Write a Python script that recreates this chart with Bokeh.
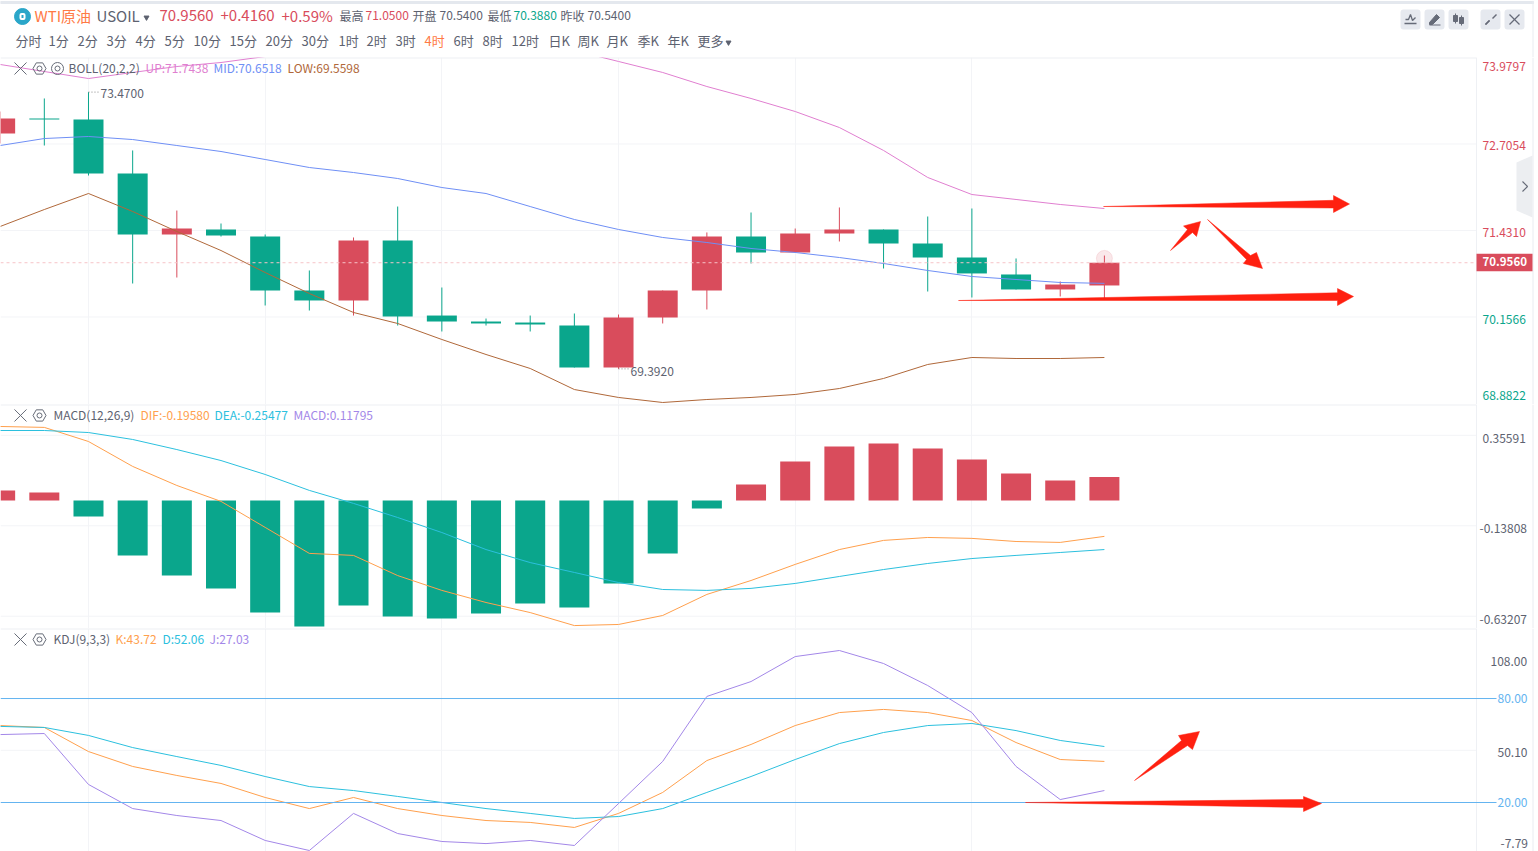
from bokeh.core.properties import value
from bokeh.embed import file_html
from bokeh.layouts import column
from bokeh.models import FixedTicker, Label, Range1d
from bokeh.plotting import figure
from bokeh.resources import INLINE

# ---- data ----
opens = [72.860, 73.081, 73.066, 72.271, 71.372, 71.446, 71.342, 70.547, 70.400, 71.283, 70.178, 70.090, 70.075,
         70.031, 69.412, 70.149, 70.547, 71.342, 71.107, 71.387, 71.446, 71.239, 71.033, 70.783, 70.562, 70.621]
closes = [73.081, 73.066, 72.271, 71.372, 71.460, 71.357, 70.547, 70.400, 71.283, 70.164, 70.090, 70.061, 70.046,
          69.412, 70.149, 70.547, 71.342, 71.107, 71.387, 71.446, 71.239, 71.033, 70.798, 70.562, 70.635, 70.956]
highs = [73.184, 73.376, 73.470, 72.610, 71.725, 71.534, 71.372, 70.842, 71.328, 71.784, 70.591, 70.134, 70.178,
         70.208, 70.193, 70.547, 71.402, 71.696, 71.460, 71.770, 71.446, 71.637, 71.755, 71.019, 70.680, 71.062]
lows = [72.713, 72.683, 72.241, 70.650, 70.738, 71.342, 70.326, 70.252, 70.178, 70.031, 69.943, 70.031, 69.943,
        69.412, 69.392, 70.061, 70.267, 70.945, 71.107, 71.269, 70.871, 70.532, 70.444, 70.562, 70.459, 70.429]
boll_up = [73.877, 73.773, 73.670, 73.759, 73.847, 73.906, 73.994, 74.112, 74.201, 74.289, 74.319, 74.289, 74.201,
           74.083, 73.921, 73.759, 73.552, 73.376, 73.184, 72.948, 72.610, 72.212, 71.961, 71.888, 71.814, 71.755]
boll_mid = [72.683, 72.786, 72.816, 72.771, 72.683, 72.595, 72.477, 72.359, 72.285, 72.197, 72.064, 71.976, 71.784,
            71.593, 71.446, 71.328, 71.254, 71.166, 71.107, 71.033, 70.945, 70.842, 70.753, 70.709, 70.665, 70.652]
boll_low = [71.490, 71.740, 71.976, 71.711, 71.416, 71.136, 70.812, 70.503, 70.223, 70.061, 69.825, 69.604, 69.398,
            69.088, 68.971, 68.897, 68.941, 68.971, 69.015, 69.103, 69.251, 69.457, 69.560, 69.545, 69.545, 69.560]
macd_hist = [0.055, 0.044, -0.087, -0.300, -0.409, -0.480, -0.611, -0.688, -0.573, -0.633, -0.644, -0.617, -0.562,
             -0.584, -0.453, -0.289, -0.044, 0.087, 0.213, 0.295, 0.311, 0.284, 0.224, 0.147, 0.109, 0.128]
dif = [0.404, 0.399, 0.322, 0.186, 0.082, -0.005, -0.147, -0.289, -0.300, -0.410, -0.491, -0.557, -0.612,
       -0.683, -0.677, -0.628, -0.513, -0.437, -0.349, -0.268, -0.218, -0.202, -0.207, -0.224, -0.229, -0.196]
dea = [0.382, 0.382, 0.371, 0.333, 0.278, 0.218, 0.142, 0.055, -0.016, -0.093, -0.175, -0.268, -0.339,
       -0.393, -0.448, -0.486, -0.491, -0.480, -0.453, -0.415, -0.377, -0.344, -0.317, -0.300, -0.284, -0.268]
kdj_k = [64.4, 63.3, 49.4, 40.8, 35.6, 31.0, 22.9, 16.5, 22.9, 16.5, 12.5, 9.6, 8.5,
         5.6, 13.7, 25.8, 44.2, 53.5, 64.4, 71.9, 73.7, 71.9, 67.3, 54.6, 44.8, 43.7]
kdj_d = [63.9, 63.3, 58.7, 51.7, 46.5, 41.4, 35.0, 29.2, 26.9, 23.5, 20.0, 16.5, 13.7,
         10.8, 11.9, 16.5, 25.8, 35.0, 44.8, 54.0, 60.4, 64.4, 65.6, 61.5, 55.8, 52.3]
kdj_j = [59.2, 59.8, 30.4, 16.5, 12.5, 9.6, -1.9, -7.7, 13.7, 2.1, -2.5, -3.7, -1.9,
         -4.8, 19.4, 43.7, 81.2, 89.8, 104.2, 107.7, 100.2, 87.5, 71.9, 40.8, 21.7, 26.9]
candles = list(range(len(opens)))
last_price = 70.956

price_ticks = [73.9797, 72.7054, 71.4310, 70.1566, 68.8822]
macd_ticks = [0.35591, -0.13808, -0.63207]
kdj_ticks = [108.00, 80.00, 50.10, 20.00, -7.79]
grid_candles = [2, 6, 10, 14, 18, 22]

periods = ["分时", "1分", "2分", "3分", "4分", "5分", "10分", "15分", "20分", "30分", "1时", "2时", "3时", "4时",
           "6时", "8时", "12时", "日K", "周K", "月K", "季K", "年K", "更多"]
period_x = [15, 48, 77, 106, 135, 164, 193, 229, 265, 301, 338, 366, 395, 424, 453, 482, 511, 548, 577, 606, 637, 667, 697]

# ---- colours / layout ----
FONT = "Noto Sans CJK SC"
RED = "#d94c5c"
GREEN = "#0aa68c"
GREY = "#5d6270"
ORANGE = "#ffa04d"
CYAN = "#2cc0de"
PURPLE = "#a387e8"
BLUE = "#64b4f0"
ARROW = "#ff2010"
GRID = "#f3f4f7"
EDGE = "#e9ecf1"
W = 1538
FRAME = 1476
STEP = 44.17
BODY = 30 / STEP


def xd(px):
    return (px + 0.35) / STEP


def pane(height, y0, y1, hlines):
    # frame takes the whole width so the price scale can be drawn inside it
    p = figure(width=W, height=height, output_backend="svg", toolbar_location=None,
               x_axis_location=None, y_axis_location=None,
               x_range=Range1d(xd(0), xd(W)), y_range=Range1d(y0, y1),
               min_border=0, outline_line_color=None, frame_align=False)
    p.xgrid.ticker = FixedTicker(ticks=grid_candles)
    p.xgrid.grid_line_color = GRID
    p.ygrid.visible = False
    n = len(hlines)
    p.segment([xd(0)] * n, hlines, [xd(FRAME)] * n, hlines, line_color=GRID)
    p.line([xd(0), xd(FRAME)], [y1, y1], line_color="#eef0f4", line_width=2)
    p.line([xd(FRAME), xd(FRAME)], [y0, y1], line_color="#eef0f4", line_width=1)
    p.line([xd(1532.5), xd(1532.5)], [y0, y1], line_color=EDGE, line_width=1)
    return p


def text(p, x, y, s, color=GREY, size=12, bold=False, y_off=0):
    p.add_layout(Label(x=x, y=y, text=s, x_units="screen", y_units="data", y_offset=y_off + 1,
                       text_color=color, text_font=FONT, text_font_size=f"{size}px",
                       text_font_style="bold" if bold else "normal", text_baseline="middle"))


def legend_row(p, y, items, eye=False):
    p.scatter([xd(20)], [y], marker="x", size=17, fill_alpha=0, line_color="#676c78", line_width=1)
    p.scatter([xd(39)], [y], marker="hex", size=13, fill_alpha=0, line_color="#676c78", line_width=1)
    p.scatter([xd(39)], [y], marker="circle", size=5, fill_alpha=0, line_color="#676c78", line_width=1)
    if eye:
        p.scatter([xd(57)], [y], marker="circle", size=12, fill_alpha=0, line_color="#676c78", line_width=1)
        p.scatter([xd(57)], [y], marker="circle", size=5, fill_alpha=0, line_color="#676c78", line_width=1)
    for x, s, c in items:
        text(p, x, y, s, c)


def arrow(p, yfn, pts):
    xs = [xd(a) for a, b in pts]
    ys = [yfn(b) for a, b in pts]
    p.patch(xs, ys, fill_color=ARROW, line_color=ARROW, line_width=0.5)


# ---- header ----
head = figure(width=W, height=57, output_backend="svg", toolbar_location=None,
              x_axis_location=None, y_axis_location=None, x_range=Range1d(0, W), y_range=Range1d(57, 0),
              min_border=0, outline_line_color=None, frame_align=False)
head.grid.visible = False
head.quad(left=[0], right=[1533], top=[1], bottom=[3], color="#e4e8ee")
head.line([1532.5, 1532.5], [0, 57], line_color=EDGE)
head.scatter([22], [16], marker="circle", size=16, color="#2aa6c9")
head.quad(left=[19], right=[25], top=[12.5], bottom=[19.5], fill_color="white", line_color=None, border_radius=2)
head.quad(left=[21], right=[23], top=[14.5], bottom=[17.5], fill_color="#2aa6c9", line_color=None)


def htext(x, y, s, color=GREY, size=12):
    head.text([x], [y - 1], text=[s], text_color=color, text_font=value(FONT), text_font_size=f"{size}px",
              text_baseline="middle")


htext(34, 16, "WTI原油", "#ff7a45", 15)
htext(96, 16, "USOIL", GREY, 15)
head.scatter([146], [17], marker="inverted_triangle", size=5, color=GREY)
htext(159, 16, "70.9560", RED, 15)
htext(220, 16, "+0.4160", RED, 15)
htext(281, 16, "+0.59%", RED, 15)
for x, s, c in [(339, "最高", GREY), (365, "71.0500", RED), (412, "开盘", GREY), (439, "70.5400", GREY),
                (487, "最低", GREY), (513, "70.3880", GREEN), (560, "昨收", GREY), (587, "70.5400", GREY)]:
    htext(x, 16, s, c, 12)
for x, s in zip(period_x, periods):
    htext(x, 41, s, "#ff7a45" if s == "4时" else GREY, 13)
head.scatter([728], [42], marker="inverted_triangle", size=5, color=GREY)

# toolbar buttons, top right
for cx in [1410, 1434, 1458, 1490, 1514]:
    head.quad(left=[cx - 10], right=[cx + 10], top=[9], bottom=[29], fill_color="#e6e9ef", line_color=None,
              border_radius=3)
ICON = "#666b78"
head.line([1405, 1408, 1410, 1412, 1415], [19, 19, 14, 20, 17], line_color=ICON, line_width=1.3)
head.line([1404, 1416], [23, 23], line_color=ICON, line_width=1.5)
head.patch([1429, 1436, 1439, 1432, 1429], [22, 14, 17, 24, 24], color=ICON)
head.line([1429, 1440], [24.5, 24.5], line_color=ICON)
head.quad(left=[1453, 1459], right=[1457, 1463], top=[15, 17], bottom=[21, 23], color=ICON)
head.segment([1455, 1461], [13, 15], [1455, 1461], [23, 25], line_color=ICON)
head.segment([1485, 1496, 1485], [24, 14, 24], [1489, 1492, 1489], [20, 18, 20], line_color=ICON, line_width=1.5)
head.segment([1509, 1509], [14, 24], [1519, 1519], [24, 14], line_color=ICON, line_width=1.2)

# ---- price pane ----
PX = 0.014733
p1 = pane(347, 73.9797 - 347 * PX, 73.9797, price_ticks[1:4])


def yp(py):
    return 73.9797 - (py - 57) * PX


colors = [RED if c >= o else GREEN for o, c in zip(opens, closes)]
p1.segment(candles, highs, candles, lows, line_color=colors, line_width=1)
p1.vbar(candles, BODY, opens, closes, fill_color=colors, line_color=None)
p1.scatter([25], [71.02], marker="circle", size=16, color=RED, alpha=0.13)
p1.line(candles, boll_up, line_color="#e07fd0", line_width=1)
p1.line(candles, boll_mid, line_color="#6f8ff5", line_width=1)
p1.line(candles, boll_low, line_color="#b0683a", line_width=1)
p1.line([xd(0), xd(FRAME)], [last_price, last_price], line_color="#f7c4c8", line_dash=[3, 3], line_width=1)

# high / low callouts
p1.line([2, xd(98)], [73.47, 73.47], line_color="#888", line_dash=[1, 2])
p1.line([14, xd(630)], [69.392, 69.392], line_color="#888", line_dash=[1, 2])
text(p1, 100, 73.47, "73.4700", GREY, 12, y_off=-2)
text(p1, 630, 69.392, "69.3920", GREY, 12, y_off=-4)

legend_row(p1, yp(68), [(68, "BOLL(20,2,2)", GREY), (145, "UP:71.7438", "#e07fd0"),
                        (213, "MID:70.6518", "#6f8ff5"), (287, "LOW:69.5598", "#b0683a")], eye=True)

for v, off, c in zip(price_ticks, [-10, -2.5, -3.5, -3.5, 7], [RED, RED, RED, GREEN, GREEN]):
    text(p1, 1482, v, f"{v:.4f}", c, 12, y_off=off)
p1.quad(left=[xd(1476)], right=[xd(1532)], top=[yp(253.3)], bottom=[yp(270.7)], fill_color=RED, line_color=None)
text(p1, 1482, last_price, "70.9560", "white", 11.5, bold=True)

# collapse handle on the right edge
p1.patch([xd(a) for a in [1516, 1532, 1532, 1516]], [yp(b) for b in [162, 155, 217, 210]],
         fill_color="#eceef1", line_color=None)
p1.line([xd(a) for a in [1522, 1527, 1522]], [yp(b) for b in [181, 186, 191]], line_color=ICON, line_width=1.2)

# hand-drawn red arrows
arrow(p1, yp, [(1103, 206), (1333, 199.8), (1333, 195), (1349, 203.5), (1333, 212), (1333, 207.5)])
arrow(p1, yp, [(958, 300), (1337, 292.3), (1337, 288), (1353, 296), (1337, 305), (1337, 300)])
arrow(p1, yp, [(1170, 250), (1187, 229), (1183, 225.5), (1200, 221), (1196, 236), (1192, 232)])
arrow(p1, yp, [(1207, 219), (1250, 255), (1256, 252), (1262, 268), (1243, 263), (1246, 259)])

# ---- MACD pane ----
MX = 0.00546
p2 = pane(224, -0.699, 0.524, macd_ticks)


def ym(py):
    return (500 - py) * MX


hist_colors = [RED if v >= 0 else GREEN for v in macd_hist]
p2.vbar(candles, BODY, 0, macd_hist, fill_color=hist_colors, line_color=None)
p2.line(candles, dif, line_color=ORANGE, line_width=1)
p2.line(candles, dea, line_color=CYAN, line_width=1)
legend_row(p2, ym(415), [(53, "MACD(12,26,9)", GREY), (140, "DIF:-0.19580", ORANGE),
                         (214, "DEA:-0.25477", CYAN), (293, "MACD:0.11795", PURPLE)])
for v, lx in zip(macd_ticks, [1482, 1479, 1479]):
    text(p2, lx, v, f"{v:.5f}", GREY, 12, y_off=-4)

# ---- KDJ pane ----
KX = 1.733
p3 = pane(223, -8.27, 120.4, [50.10])


def yk(py):
    return 20 + (802 - py) / KX


p3.line(candles, kdj_k, line_color=ORANGE, line_width=1)
p3.line(candles, kdj_d, line_color=CYAN, line_width=1)
p3.line(candles, kdj_j, line_color=PURPLE, line_width=1)
for level in [80, 20]:
    p3.line([xd(0), xd(1496)], [level, level], line_color=BLUE, line_width=1)
legend_row(p3, yk(639), [(53, "KDJ(9,3,3)", GREY), (115, "K:43.72", ORANGE),
                         (162, "D:52.06", CYAN), (209, "J:27.03", PURPLE)])
for v, off, c, lx in zip(kdj_ticks, [-13, -0.5, -3.5, -0.5, 6], [GREY, BLUE, GREY, BLUE, GREY],
                         [1490, 1497, 1497, 1497, 1500]):
    text(p3, lx, v, f"{v:.2f}", c, 12, y_off=off)
arrow(p3, yk, [(1134, 780), (1181, 740), (1178, 735), (1199, 731), (1192, 749), (1187, 745)])
arrow(p3, yk, [(1025, 802), (1303, 799), (1303, 796), (1321, 803), (1303, 811), (1303, 807)])

page = column(head, p1, p2, p3, spacing=0)
open("out.html", "w").write(file_html(page, INLINE))
